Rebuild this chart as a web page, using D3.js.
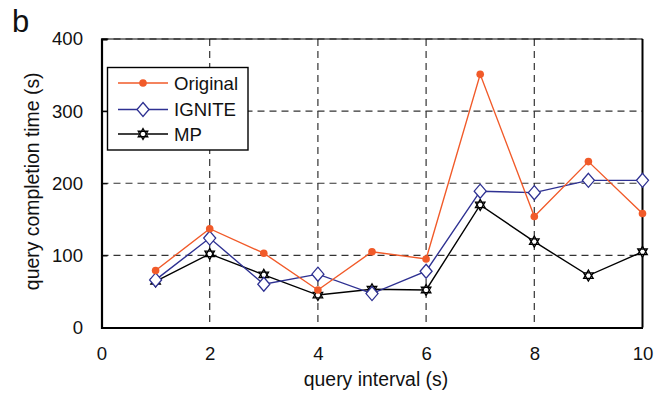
<!DOCTYPE html>
<html>
<head>
<meta charset="utf-8">
<script src="https://cdn.jsdelivr.net/npm/d3@7"></script>
<style>
  html, body { margin: 0; padding: 0; background: #fff; }
  svg { display: block; font-family: "Liberation Sans", Arial, sans-serif; }
</style>
</head>
<body>
<svg id="chart" width="666" height="395"></svg>
<script>
// Query interval (s)
const intervals = [1, 2, 3, 4, 5, 6, 7, 8, 9, 10];
// Query completion time (s) for each scheme
const originalTimes = [79, 137, 103, 52, 105, 95, 351, 154, 230, 158];
const igniteTimes   = [66, 124, 60, 74, 47, 78, 189, 187, 204, 204];
const mpTimes       = [64, 102, 73, 45, 53, 52, 170, 119, 72, 105];
const seriesNames = ["Original", "IGNITE", "MP"];
const xTicks = [0, 2, 4, 6, 8, 10];
const yTicks = [0, 100, 200, 300, 400];

const svg = d3.select("#chart");
const plotLeft = 101.5, plotRight = 642.5, plotTop = 39, plotBottom = 327.5;
const tickFont = 18.6, titleFont = 19.4;

const x = d3.scaleLinear().domain([0, 10]).range([plotLeft, plotRight]);
const y = d3.scaleLinear().domain([0, 400]).range([plotBottom, plotTop]);

const colors = { Original: "#f15a29", IGNITE: "#2e3192", MP: "#000000" };

// Dashed grid
const grid = svg.append("g").attr("stroke", "#333").attr("stroke-width", 1.2)
  .attr("stroke-dasharray", "7,5");
grid.selectAll("line.v").data(xTicks.filter(d => d > 0 && d < 10)).join("line")
  .attr("class", "v")
  .attr("x1", d => x(d)).attr("x2", d => x(d)).attr("y1", plotTop).attr("y2", plotBottom);
grid.selectAll("line.h").data(yTicks.filter(d => d > 0)).join("line")
  .attr("class", "h")
  .attr("x1", plotLeft).attr("x2", plotRight).attr("y1", d => y(d)).attr("y2", d => y(d));

// Frame
svg.append("line").attr("x1", plotLeft).attr("x2", plotRight).attr("y1", plotTop).attr("y2", plotTop)
  .attr("stroke", "#000").attr("stroke-width", 1);
svg.append("line").attr("x1", plotRight).attr("x2", plotRight).attr("y1", plotTop).attr("y2", plotBottom)
  .attr("stroke", "#000").attr("stroke-width", 2);

// Axes
const xAxis = svg.append("g").attr("transform", `translate(0,${plotBottom})`)
  .call(d3.axisBottom(x).tickValues(xTicks).tickSize(0).tickPadding(19).tickFormat(d3.format("d")));
const yAxis = svg.append("g").attr("transform", `translate(${plotLeft},0)`)
  .call(d3.axisLeft(y).tickValues(yTicks).tickSize(-6).tickPadding(18.5).tickFormat(d3.format("d")));
[xAxis, yAxis].forEach(a => {
  a.select(".domain").attr("stroke", "#000").attr("stroke-width", 2.2);
  a.selectAll(".tick line").attr("stroke", "#000").attr("stroke-width", 1.2);
  a.selectAll("text").attr("font-size", tickFont).attr("fill", "#111")
    .attr("font-family", "Liberation Sans, Arial, sans-serif");
});

// Axis titles
svg.append("text").attr("x", 376).attr("y", 386)
  .attr("text-anchor", "middle").attr("font-size", titleFont).attr("fill", "#111")
  .text("query interval (s)");
svg.append("text").attr("transform", `translate(38.5,181.3) rotate(-90)`)
  .attr("text-anchor", "middle").attr("font-size", titleFont).attr("fill", "#111")
  .text("query completion time (s)");
// Panel letter
svg.append("text").attr("x", 12).attr("y", 31.5).attr("font-size", 31).attr("fill", "#111").text("b");

// Marker shapes
const diamond = (cx, cy) => `M${cx},${cy - 7}L${cx + 6},${cy}L${cx},${cy + 7}L${cx - 6},${cy}Z`;
const star = (cx, cy) => {
  const r = 5.5;
  const tri = a => d3.range(3).map(i => {
    const t = a + i * 2 * Math.PI / 3;
    return [cx + r * Math.cos(t), cy + r * Math.sin(t)];
  });
  const p = t => "M" + t.map(q => q.join(",")).join("L") + "Z";
  return p(tri(-Math.PI / 2)) + p(tri(Math.PI / 2));
};

function drawMarker(g, name, cx, cy) {
  if (name === "Original") {
    g.append("circle").attr("cx", cx).attr("cy", cy).attr("r", 3.8).attr("fill", colors[name]);
  } else if (name === "IGNITE") {
    g.append("path").attr("d", diamond(cx, cy)).attr("fill", "#fff")
      .attr("stroke", colors[name]).attr("stroke-width", 1.3);
  } else {
    g.append("path").attr("d", star(cx, cy)).attr("fill", "#fff")
      .attr("stroke", colors[name]).attr("stroke-width", 1.3);
  }
}

const seriesData = { Original: originalTimes, IGNITE: igniteTimes, MP: mpTimes };
const line = d3.line().x(d => x(d[0])).y(d => y(d[1]));

["MP", "IGNITE", "Original"].forEach(name => {
  const pts = intervals.map((t, i) => [t, seriesData[name][i]]);
  const g = svg.append("g");
  g.append("path").datum(pts).attr("d", line).attr("fill", "none")
    .attr("stroke", colors[name]).attr("stroke-width", 1.4);
  pts.forEach(p => drawMarker(g, name, x(p[0]), y(p[1])));
});

// Legend
const lg = svg.append("g");
lg.append("rect").attr("x", 107.5).attr("y", 67.5).attr("width", 140.5).attr("height", 82.5)
  .attr("fill", "#fff").attr("stroke", "#000").attr("stroke-width", 1.4);
seriesNames.forEach((name, i) => {
  const yy = [83, 109.5, 134][i];
  lg.append("line").attr("x1", 118).attr("x2", 168).attr("y1", yy).attr("y2", yy)
    .attr("stroke", colors[name]).attr("stroke-width", 1.4);
  drawMarker(lg, name, 143, yy);
  lg.append("text").attr("x", 174).attr("y", yy).attr("dy", "0.36em")
    .attr("font-size", tickFont).attr("fill", "#111").text(name);
});
</script>
</body>
</html>
